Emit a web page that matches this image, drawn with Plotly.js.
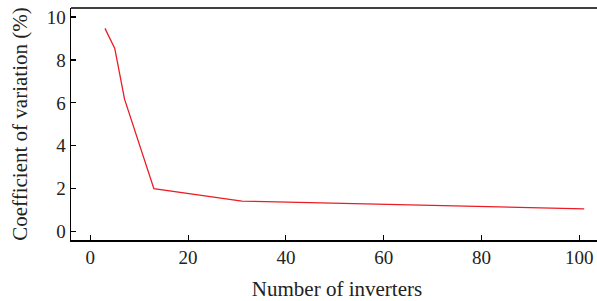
<!DOCTYPE html>
<html><head><meta charset="utf-8">
<script src="https://cdn.plot.ly/plotly-3.0.1.min.js"></script>
<style>html,body{margin:0;padding:0;background:#fff;overflow:hidden;width:597px;height:301px}#chart{width:603px;height:301px}</style>
</head><body><div id="chart"></div>
<script>
const inverters = [3, 5, 7, 13, 31, 101];
const coefVariation = [9.47, 8.54, 6.17, 2.0, 1.42, 1.06];
const xTicks = [0, 20, 40, 60, 80, 100];
const yTicks = [0, 2, 4, 6, 8, 10];

const fam = 'Liberation Serif, DejaVu Serif, serif';
const tickFont = {family: fam, size: 19, color: '#222'};
const titleFont = {family: fam, size: 21, color: '#222'};
Plotly.newPlot('chart', [{
  x: inverters, y: coefVariation, type: 'scatter', mode: 'lines',
  line: {color: '#ec1c24', width: 1.3}
}], {
  width: 603, height: 301,
  margin: {l: 71, r: 0, t: 8, b: 61, pad: 0},
  showlegend: false,
  paper_bgcolor: '#fff', plot_bgcolor: '#fff',
  font: tickFont,
  xaxis: {
    range: [-3.95, 104.85], tickvals: xTicks, ticktext: xTicks.map(String),
    ticks: 'inside', ticklen: 5, tickwidth: 1.2, tickcolor: '#000',
    showline: true, linecolor: '#000', linewidth: 1.5, mirror: false,
    showgrid: false, zeroline: false, tickfont: tickFont,
    title: {text: 'Number of inverters', font: titleFont, standoff: 15}
  },
  yaxis: {
    range: [-0.39, 10.42], tickvals: yTicks, ticktext: yTicks.map(String),
    ticks: 'inside', ticklen: 5, tickwidth: 1.2, tickcolor: '#000',
    showline: true, linecolor: '#000', linewidth: 1.5,
    showgrid: false, zeroline: false, tickfont: tickFont,
    title: {text: 'Coefficient of variation (%)', font: titleFont, standoff: 13}
  },
  shapes: [{type: 'line', xref: 'paper', yref: 'paper', x0: 0, x1: 1, y0: 1, y1: 1,
            line: {color: '#000', width: 1.5}}]
}, {staticPlot: true, displayModeBar: false});
</script></body></html>
